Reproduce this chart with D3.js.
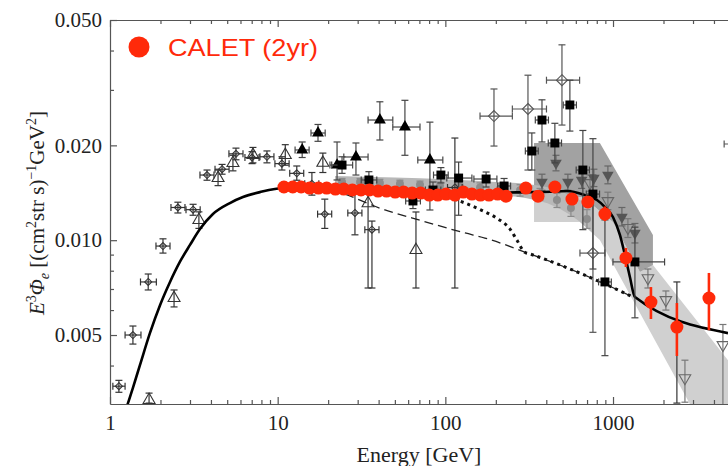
<!DOCTYPE html>
<html>
<head>
<meta charset="utf-8">
<script src="https://cdn.jsdelivr.net/npm/d3@7"></script>
<style>
  body { margin: 0; background: #fff; }
  svg { display: block; }
  .axis .tick text { font-family: 'Liberation Serif', 'Times New Roman', serif; font-size: 21px; fill: #222; }
  .axis .domain, .axis .tick line { stroke: #555; stroke-width: 1.2; }
</style>
</head>
<body>
<svg id="chart" width="728" height="466"></svg>
<script>
// energy in GeV, flux as E^3 * Phi
const xDomain = [1, 4850];
const yDomain = [0.00302, 0.05];
const xMajor = [1, 10, 100, 1000];
const xMinor = [2, 3, 4, 5, 6, 7, 8, 9, 20, 30, 40, 50, 60, 70, 80, 90,
  200, 300, 400, 500, 600, 700, 800, 900, 2000, 3000, 4000];
const yMajor = [0.005, 0.01, 0.02, 0.05];
const yTickLabels = ['0.005', '0.010', '0.020', '0.050'];
const yMinor = [0.004, 0.006, 0.007, 0.008, 0.009, 0.03, 0.04];

// CALET (2yr), dense part
const caletE = [10.9, 12.3, 13.8, 15.5, 17.5, 19.6, 22.1, 24.8, 27.9, 31.4, 35.3, 39.7, 44.6, 50.2,
  56.4, 63.4, 71.3, 80.2, 90.2, 101, 114, 128, 144, 162, 182, 205, 230];
const caletF = [0.01475, 0.01475, 0.01475, 0.01464, 0.01464, 0.01464, 0.01453, 0.01453, 0.01443, 0.01443,
  0.01443, 0.01432, 0.01432, 0.01421, 0.01421, 0.01411, 0.01411, 0.01391, 0.01391, 0.01401, 0.01391,
  0.01421, 0.01401, 0.01391, 0.01391, 0.01401, 0.01380];
// [E, F, fLo, fHi]
const caletHigh = [
  [302, 0.01464, 0.0142, 0.0151], [357, 0.0138, 0.0134, 0.0142], [450, 0.01475, 0.0143, 0.0152],
  [569, 0.01351, 0.0130, 0.0140], [708, 0.01322, 0.0127, 0.0138], [895, 0.01211, 0.0115, 0.0128],
  [1194, 0.00878, 0.00822, 0.00945], [1683, 0.00636, 0.00562, 0.00710],
  [2404, 0.00530, 0.00429, 0.00632], [3733, 0.00655, 0.00518, 0.00787]
];

// rows: [E, F, eLo, eHi, fLo, fHi]
const crosses = [
  [1.13, 0.00344, 1.04, 1.23, 0.00329, 0.00359], [1.37, 0.00500, 1.23, 1.53, 0.00468, 0.00534],
  [1.69, 0.00737, 1.52, 1.89, 0.00695, 0.00781], [2.07, 0.00958, 1.88, 2.28, 0.00910, 0.01010],
  [2.54, 0.01270, 2.31, 2.80, 0.01220, 0.01320], [3.13, 0.01250, 2.84, 3.45, 0.01200, 0.01300],
  [3.79, 0.01610, 3.44, 4.17, 0.01550, 0.01670], [4.66, 0.01680, 4.23, 5.13, 0.01620, 0.01740],
  [5.64, 0.01880, 5.12, 6.21, 0.01800, 0.01960], [7.03, 0.01830, 6.38, 7.74, 0.01750, 0.01910],
  [8.63, 0.01840, 7.84, 9.50, 0.01760, 0.01920], [10.6, 0.01750, 9.63, 11.7, 0.01670, 0.01840],
  [13.0, 0.01630, 11.8, 14.3, 0.01550, 0.01720], [16.0, 0.01510, 14.5, 17.6, 0.01390, 0.01640],
  [19.1, 0.01210, 17.3, 21.0, 0.01090, 0.01350], [28.9, 0.01220, 26.2, 31.8, 0.01040, 0.01420],
  [36.5, 0.01080, 33.1, 40.2, 0.00705, 0.01150], [114, 0.01470, 103, 126, 0.00705, 0.02110],
  [2404, 0.00530, null, null, 0.00304, 0.00737]
];
const openTri = [
  [1.71, 0.00311, null, null, 0.00304, 0.00327], [2.41, 0.00655, null, null, 0.00614, 0.00695],
  [3.39, 0.01159, null, null, 0.01090, 0.01230], [4.41, 0.01575, null, null, 0.01490, 0.01670],
  [5.41, 0.01758, null, null, 0.01660, 0.01860], [7.12, 0.01864, null, null, 0.01760, 0.01970],
  [11.1, 0.01864, null, null, 0.01730, 0.02010], [18.6, 0.01760, null, null, 0.01640, 0.01890],
  [34.6, 0.01310, null, null, 0.00705, 0.01553], [66.8, 0.00930, null, null, 0.00705, 0.01229]
];
const filledTri = [
  [14.0, 0.01934, 12.7, 15.4, 0.01830, 0.02050], [17.4, 0.02189, 15.8, 19.2, 0.02060, 0.02330],
  [22.6, 0.01732, 20.5, 24.9, 0.01553, 0.02050], [29.3, 0.01837, 24.8, 34.6, 0.01610, 0.02035],
  [40.7, 0.02407, 34.6, 48.6, 0.0208, 0.0275], [57.4, 0.02287, 48.6, 70.6, 0.0186, 0.0278],
  [80.9, 0.01797, 68.5, 96.6, 0.01247, 0.0237]
];
const squares = [
  [24.2, 0.01732, 21.0, 28.0, 0.01630, 0.01840], [35.0, 0.01553, 31.5, 39.0, 0.01460, 0.01650],
  [64.1, 0.01332, 58.0, 71.0, 0.01260, 0.01410], [84.4, 0.01443, 76.0, 94.0, 0.01360, 0.01530],
  [94.1, 0.01610, 85.0, 104, 0.01520, 0.01700], [120, 0.01575, 102, 144, 0.0120, 0.0177],
  [175, 0.01564, 148, 203, 0.01475, 0.01646], [224, 0.01486, 205, 245, 0.01380, 0.01570],
  [328, 0.01919, 300, 358, 0.0167, 0.0219], [377, 0.02407, 344, 412, 0.0205, 0.0279],
  [450, 0.02035, 411, 493, 0.0176, 0.0235], [553, 0.02687, 505, 605, 0.0222, 0.0322],
  [661, 0.01670, 603, 723, 0.0108, 0.0223], [759, 0.01401, 693, 831, 0.0081, 0.0210],
  [895, 0.00737, 820, 977, 0.0043, 0.0116], [1351, 0.00853, 999, 2030, 0.00567, 0.0110]
];
const diamonds = [
  [195, 0.02478, 161, 251, 0.0199, 0.0302], [311, 0.02609, 251, 401, 0.0167, 0.0334],
  [496, 0.0322, 401, 632, 0.0232, 0.0417], [759, 0.0091, 635, 895, 0.0051, 0.0161],
  [5900, 0.0202, 4600, 7500, null, null]
];
const hessFilled = [
  [377, 0.0153, null, null, 0.0144, 0.0162], [457, 0.01758, null, null, 0.0166, 0.0186],
  [538, 0.0153, null, null, 0.0144, 0.0162], [650, 0.01553, null, null, 0.0146, 0.0165],
  [769, 0.01575, null, null, 0.0148, 0.0168], [932, 0.0161, null, null, 0.0151, 0.0172],
  [1130, 0.01185, null, null, 0.0111, 0.0127], [1351, 0.01054, null, null, 0.0098, 0.0113]
];
const hessOpen = [
  [729, 0.01519, null, null, 0.0143, 0.0161], [932, 0.01332, null, null, 0.0125, 0.0142],
  [1227, 0.01094, null, null, 0.0102, 0.0117], [1615, 0.00758, null, null, 0.00705, 0.0081],
  [2067, 0.00646, null, null, 0.0060, 0.0069], [2685, 0.00365, null, null, 0.00306, 0.00416],
  [4523, 0.00465, null, null, 0.0029, 0.0054]
];
const fermi = [
  [24.2, 0.0153, null, null, 0.0149, 0.0157], [31.0, 0.0153, null, null, 0.0149, 0.0157],
  [40.7, 0.0152, null, null, 0.0148, 0.0156], [53.6, 0.0151, null, null, 0.0147, 0.0155],
  [70.6, 0.0150, null, null, 0.0146, 0.0154], [92.9, 0.0149, null, null, 0.0145, 0.0153],
  [122, 0.0149, null, null, 0.0144, 0.0154], [161, 0.0147, null, null, 0.0142, 0.0152],
  [212, 0.0146, null, null, 0.0141, 0.0151], [279, 0.0144, null, null, 0.0138, 0.0150],
  [367, 0.0140, null, null, 0.0134, 0.0146], [463, 0.01341, null, null, 0.0127, 0.0141],
  [561, 0.01265, null, null, 0.0119, 0.0134], [699, 0.01168, null, null, 0.0109, 0.0125]
];
// [E, lo, hi]
const fermiBand = [
  [22, 0.0146, 0.0160], [50, 0.0144, 0.0158], [100, 0.0142, 0.0156], [200, 0.0139, 0.0153],
  [300, 0.0136, 0.0151], [450, 0.0128, 0.0145], [600, 0.0117, 0.0136], [750, 0.0106, 0.0128]
];
// band outlines, [E, F]
const hessBandDark = [[338, 0.02035], [835, 0.02035], [1730, 0.01039], [1730, 0.00834],
  [1447, 0.00792], [999, 0.01142], [661, 0.01371], [338, 0.01371]];
const hessBandLight = [[338, 0.01371], [661, 0.01371], [999, 0.01142], [1447, 0.00792], [1730, 0.00834],
  [4850, 0.00416], [4850, 0.00302], [2875, 0.00302], [835, 0.01001], [635, 0.01142], [338, 0.01142]];

// model curves, [E, F]
const modelSolid = [[1.18, 0.0027], [1.28, 0.00304], [1.37, 0.00340], [1.51, 0.00402], [1.73, 0.00507],
  [1.99, 0.00623], [2.28, 0.00737], [2.61, 0.00853], [3.00, 0.00966], [3.44, 0.01085], [4.11, 0.01211],
  [5.19, 0.01312], [6.21, 0.01371], [7.84, 0.01421], [10.9, 0.01464], [20, 0.01465], [50, 0.01440],
  [100, 0.01420], [200, 0.01415], [300, 0.01420], [421, 0.01425], [531, 0.01432], [680, 0.0139],
  [802, 0.01341], [895, 0.01274], [999, 0.01185], [1099, 0.01039], [1178, 0.00897], [1261, 0.00764],
  [1351, 0.00660], [4850, 0.00507]];
const modelDashed = [[17.4, 0.01470], [22.0, 0.01432], [43.6, 0.01247], [73.5, 0.01150], [131, 0.01054],
  [172, 0.01016], [320, 0.00904], [635, 0.00786], [920, 0.00721], [1314, 0.0066]];
const modelDotted = [[70.6, 0.01421], [92.9, 0.01391], [131, 0.01312], [168, 0.01238], [206, 0.01168],
  [243, 0.01085], [267, 0.01001], [298, 0.00915], [320, 0.00904], [635, 0.00786], [920, 0.00721],
  [1314, 0.0066]];

const RED = '#ff2a0a';

class spectrumViz {
  constructor(_config) {
    this.config = {
      parentElement: _config.parentElement,
      containerWidth: _config.containerWidth,
      containerHeight: _config.containerHeight,
    }
    this.config.margin = _config.margin || { top: 20, bottom: 62, right: 0, left: 110 };
    this.initVis();
  }

  initVis() {
    let vis = this;
    const m = vis.config.margin;
    vis.width = vis.config.containerWidth - m.left - m.right;
    vis.height = vis.config.containerHeight - m.top - m.bottom;

    vis.svg = d3.select(vis.config.parentElement);
    vis.chart = vis.svg.append('g').attr('transform', `translate(${m.left},${m.top})`);

    vis.xScale = d3.scaleLog().domain(xDomain).range([0, vis.width]);
    vis.yScale = d3.scaleLog().domain(yDomain).range([vis.height, 0]);

    vis.svg.append('defs').append('clipPath').attr('id', 'plot-clip')
      .append('rect').attr('width', vis.width).attr('height', vis.height);
    vis.plot = vis.chart.append('g').attr('clip-path', 'url(#plot-clip)');
  }

  drawAxes() {
    let vis = this;
    const none = () => '';
    const bottom = vis.chart.append('g').attr('class', 'axis').attr('transform', `translate(0,${vis.height})`);
    bottom.call(d3.axisBottom(vis.xScale).tickValues(xMajor).tickFormat(d3.format('d'))
      .tickSizeInner(-7).tickSizeOuter(0).tickPadding(11));
    bottom.append('g').call(d3.axisBottom(vis.xScale).tickValues(xMinor).tickFormat(none)
      .tickSizeInner(-4).tickSizeOuter(0))
      .select('.domain').remove();

    const top = vis.chart.append('g').attr('class', 'axis');
    top.call(d3.axisTop(vis.xScale).tickValues(xMajor).tickFormat(none).tickSizeInner(-7).tickSizeOuter(0));
    top.append('g').call(d3.axisTop(vis.xScale).tickValues(xMinor).tickFormat(none).tickSizeInner(-4).tickSizeOuter(0))
      .select('.domain').remove();

    const left = vis.chart.append('g').attr('class', 'axis');
    left.call(d3.axisLeft(vis.yScale).tickValues(yMajor).tickFormat(d => yTickLabels[yMajor.indexOf(d)])
      .tickSizeInner(-7).tickSizeOuter(0).tickPadding(8));
    left.append('g').call(d3.axisLeft(vis.yScale).tickValues(yMinor).tickFormat(none).tickSizeInner(-4).tickSizeOuter(0))
      .select('.domain').remove();

    vis.chart.append('text')
      .attr('x', vis.width / 2)
      .attr('y', vis.height + 58)
      .attr('text-anchor', 'middle')
      .style('font-family', "'Liberation Serif', 'Times New Roman', serif")
      .style('font-size', '22px')
      .attr('fill', '#222')
      .text('Energy [GeV]');

    const yl = vis.chart.append('text')
      .attr('transform', `translate(-66,${vis.height / 2 + 1}) rotate(-90)`)
      .attr('text-anchor', 'middle')
      .style('font-family', "'Liberation Serif', 'Times New Roman', serif")
      .style('font-size', '21px')
      .attr('fill', '#222');
    const sup = (t) => yl.append('tspan').attr('dy', -8).style('font-size', '14px').text(t);
    const base = (t, italic) => yl.append('tspan').attr('dy', 8).style('font-style', italic ? 'italic' : null).text(t);
    yl.append('tspan').style('font-style', 'italic').text('E');
    sup('3');
    base('Φ', true);
    yl.append('tspan').attr('dy', 5).style('font-size', '14px').style('font-style', 'italic').text('e');
    yl.append('tspan').attr('dy', -5).text(' [(cm');
    sup('2');
    base('str s)');
    sup('−1');
    base('GeV');
    sup('2');
    base(']');
  }

  drawBands() {
    let vis = this;
    const poly = d3.line().x(d => vis.xScale(d[0])).y(d => vis.yScale(d[1]));
    vis.plot.append('path').attr('d', poly(hessBandLight) + 'Z').attr('fill', '#d0d0d0');
    vis.plot.append('path').attr('d', poly(hessBandDark) + 'Z').attr('fill', '#a2a2a2');
    const area = d3.area()
      .x(d => vis.xScale(d[0]))
      .y0(d => vis.yScale(d[1]))
      .y1(d => vis.yScale(d[2]))
      .curve(d3.curveMonotoneX);
    vis.plot.append('path').attr('d', area(fermiBand)).attr('fill', '#b8b8b8');
  }

  drawSeries(rows, opts) {
    let vis = this;
    const xs = d => vis.xScale(d[0]);
    const ys = d => vis.yScale(d[1]);
    const cap = opts.cap || 3.5;
    const g = vis.plot.append('g');
    const bars = g.append('g').attr('stroke', opts.barColour).attr('stroke-width', opts.barWidth || 1.2);

    const hRows = rows.filter(d => d[2] != null);
    bars.selectAll('line.hbar').data(hRows).join('line').attr('class', 'hbar')
      .attr('x1', d => vis.xScale(d[2])).attr('x2', d => vis.xScale(d[3]))
      .attr('y1', ys).attr('y2', ys);
    bars.selectAll('line.hcap').data(hRows.flatMap(d => [[d[2], d[1]], [d[3], d[1]]])).join('line').attr('class', 'hcap')
      .attr('x1', xs).attr('x2', xs)
      .attr('y1', d => ys(d) - cap).attr('y2', d => ys(d) + cap);

    const vRows = rows.filter(d => d[4] != null);
    bars.selectAll('line.vbar').data(vRows).join('line').attr('class', 'vbar')
      .attr('x1', xs).attr('x2', xs)
      .attr('y1', d => vis.yScale(d[4])).attr('y2', d => vis.yScale(d[5]));
    bars.selectAll('line.vcap').data(vRows.flatMap(d => [[d[0], d[4]], [d[0], d[5]]])).join('line').attr('class', 'vcap')
      .attr('x1', d => xs(d) - cap).attr('x2', d => xs(d) + cap)
      .attr('y1', ys).attr('y2', ys);

    g.selectAll('path.marker').data(rows).join('path').attr('class', 'marker')
      .attr('transform', d => `translate(${xs(d)},${ys(d)})${opts.flip ? ' rotate(180)' : ''}`)
      .attr('d', opts.shape)
      .attr('fill', opts.fill || 'none')
      .attr('stroke', opts.stroke || 'none')
      .attr('stroke-width', opts.strokeWidth || 1.1);
  }

  drawModels() {
    let vis = this;
    const smooth = d3.line().x(d => vis.xScale(d[0])).y(d => vis.yScale(d[1])).curve(d3.curveMonotoneX);
    vis.plot.append('path').attr('d', smooth(modelDashed))
      .attr('fill', 'none').attr('stroke', '#222').attr('stroke-width', 1.3).attr('stroke-dasharray', '9,5');
    vis.plot.append('path').attr('d', smooth(modelDotted))
      .attr('fill', 'none').attr('stroke', '#111').attr('stroke-width', 3).attr('stroke-dasharray', '3,4');
    vis.plot.append('path').attr('d', smooth(modelSolid))
      .attr('fill', 'none').attr('stroke', '#000').attr('stroke-width', 2.6);
  }

  drawCalet() {
    let vis = this;
    const g = vis.plot.append('g');
    const dense = caletE.map((e, i) => [e, caletF[i]]);
    g.selectAll('line.cbar').data(caletHigh).join('line').attr('class', 'cbar')
      .attr('x1', d => vis.xScale(d[0])).attr('x2', d => vis.xScale(d[0]))
      .attr('y1', d => vis.yScale(d[2])).attr('y2', d => vis.yScale(d[3]))
      .attr('stroke', RED).attr('stroke-width', 2.6);
    g.selectAll('circle').data(dense.concat(caletHigh)).join('circle')
      .attr('cx', d => vis.xScale(d[0]))
      .attr('cy', d => vis.yScale(d[1]))
      .attr('r', 6.5)
      .attr('fill', RED);
  }

  drawLegend() {
    let vis = this;
    const lg = vis.chart.append('g').attr('transform', 'translate(29,27)');
    lg.append('circle').attr('r', 10.5).attr('fill', RED);
    lg.append('text')
      .attr('x', 29).attr('y', 8.5)
      .attr('textLength', 150)
      .attr('lengthAdjust', 'spacingAndGlyphs')
      .style('font-family', "'Liberation Sans', Arial, sans-serif")
      .style('font-size', '24px')
      .attr('fill', RED)
      .text('CALET (2yr)');
  }

  render() {
    let vis = this;
    const tri = d3.symbol(d3.symbolTriangle, 62)();
    const triSmall = d3.symbol(d3.symbolTriangle, 58)();
    const sq = d3.symbol(d3.symbolSquare, 80)();
    const diamond = h => `M0,${-h}L${h},0L0,${h}L${-h},0Z`;

    vis.drawBands();
    vis.drawSeries(fermi, { barColour: '#8a8a8a', shape: d3.symbol(d3.symbolCircle, 50)(), fill: '#8c8c8c' });
    vis.drawSeries(hessOpen, { barColour: '#777', shape: triSmall, flip: true, stroke: '#666' });
    vis.drawSeries(hessFilled, { barColour: '#666', shape: triSmall, flip: true, fill: '#555' });
    vis.drawSeries(crosses, { barColour: '#333', shape: diamond(3.5), stroke: '#333' });
    vis.drawSeries(openTri, { barColour: '#333', shape: tri, stroke: '#333' });
    vis.drawSeries(diamonds, { barColour: '#555', shape: diamond(5.5), stroke: '#555' });
    vis.drawModels();
    vis.drawSeries(filledTri, { barColour: '#444', shape: tri, fill: '#000' });
    vis.drawSeries(squares, { barColour: '#444', shape: sq, fill: '#000' });
    vis.drawCalet();
    vis.drawAxes();
    vis.drawLegend();
  }
}

const viz = new spectrumViz({ parentElement: '#chart', containerWidth: 728, containerHeight: 466 });
viz.render();
</script>
</body>
</html>
